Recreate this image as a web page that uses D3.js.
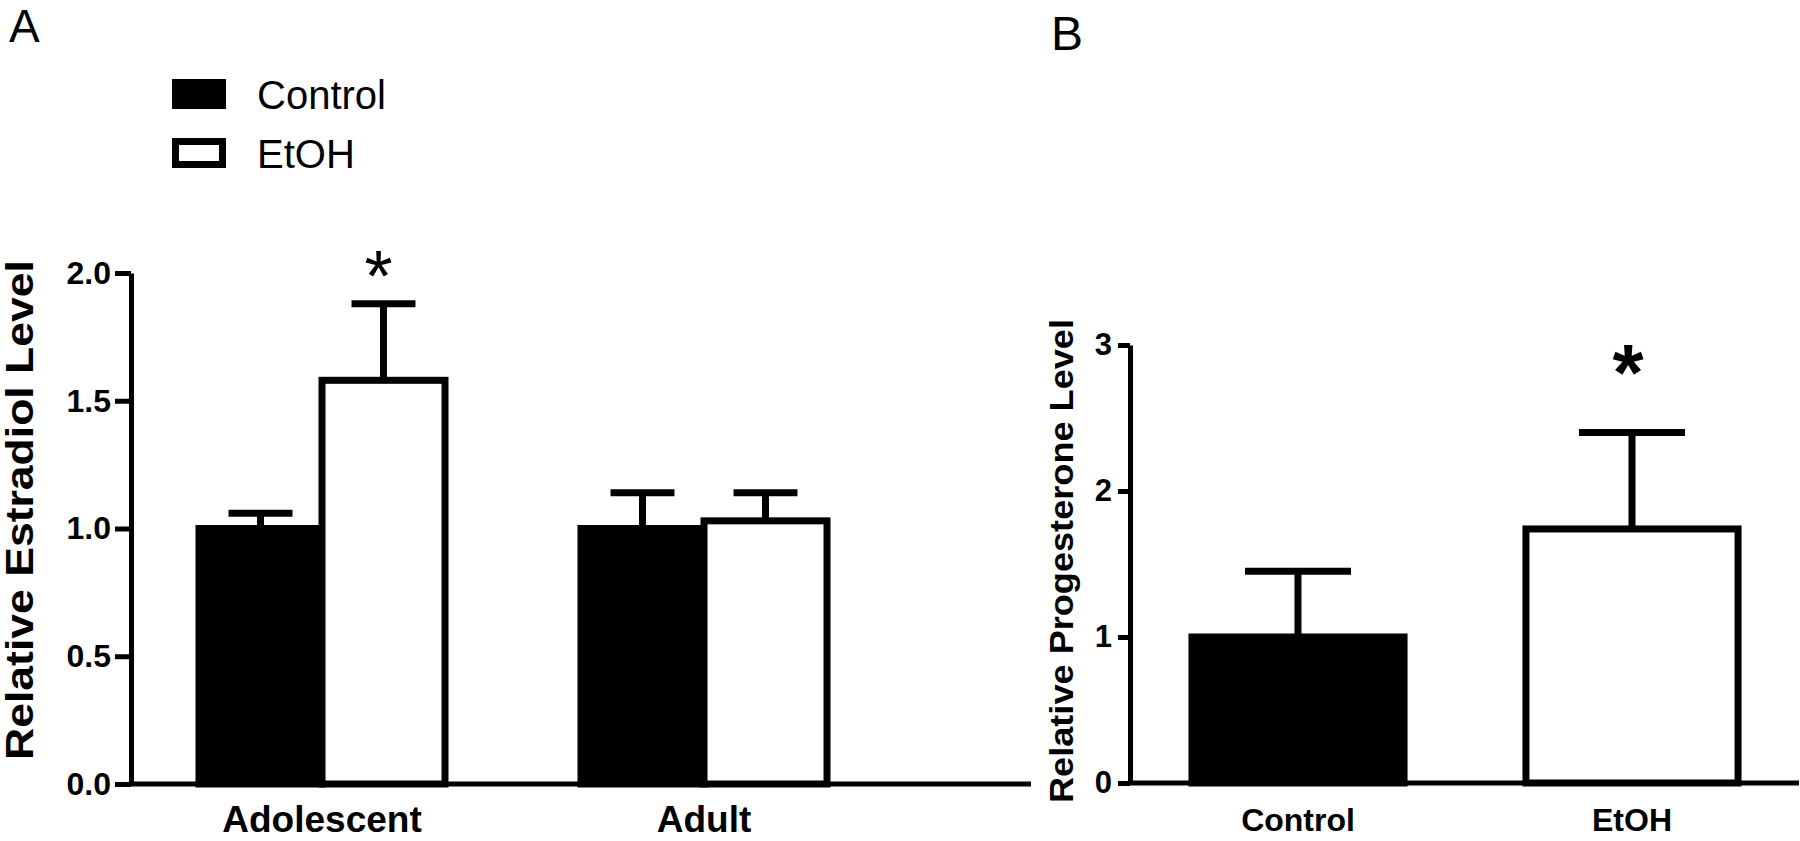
<!DOCTYPE html>
<html><head><meta charset="utf-8">
<script src="https://cdn.jsdelivr.net/npm/d3@7"></script>
<style>html,body{margin:0;padding:0;background:#fff;overflow:hidden}svg{display:block}</style>
</head><body>
<script>
// ---- data ----
const groupsA = ["Adolescent", "Adult"];
const seriesA = ["Control", "EtOH"];
const meanControlA = [1.0, 1.0];
const errControlA = [1.06, 1.14];
const meanEtohA = [1.58, 1.03];
const errEtohA = [1.88, 1.14];
const sigA = ["", "*"]; // per series in Adolescent group: EtOH marked
const yTicksA = [0, 0.5, 1.0, 1.5, 2.0];

const groupsB = ["Control", "EtOH"];
const meanB = [1.0, 1.74];
const errB = [1.45, 2.40];
const sigB = ["", "*"];
const yTicksB = [0, 1, 2, 3];

const fills = {Control: "#000", EtOH: "#fff"};

const W = 1800, H = 841;
const svg = d3.select("body").append("svg").attr("width", W).attr("height", H);
const bold = "'Liberation Sans', Arial, sans-serif";

// ---------- Panel A ----------
const yA = d3.scaleLinear().domain([0, 2]).range([784, 273]);
const x0A = d3.scaleBand().domain(groupsA).range([131, 895]).paddingInner(0.356).paddingOuter(0.178);
const x1A = d3.scaleBand().domain(seriesA).range([0, x0A.bandwidth()]);
const axisEndA = 1031;

const gA = svg.append("g");
const rowsA = [];
groupsA.forEach((g, i) => {
  rowsA.push({g, s: "Control", v: meanControlA[i], e: errControlA[i]});
  rowsA.push({g, s: "EtOH", v: meanEtohA[i], e: errEtohA[i]});
});
const bw = x1A.bandwidth();
// error bars
rowsA.forEach(d => {
  const cx = x0A(d.g) + x1A(d.s) + bw / 2;
  gA.append("line").attr("x1", cx).attr("x2", cx).attr("y1", yA(d.v)).attr("y2", yA(d.e))
    .attr("stroke", "#000").attr("stroke-width", 7);
  gA.append("line").attr("x1", cx - bw * 0.26).attr("x2", cx + bw * 0.26).attr("y1", yA(d.e)).attr("y2", yA(d.e))
    .attr("stroke", "#000").attr("stroke-width", 7);
});
gA.selectAll("rect.bar").data(rowsA).join("rect").attr("class", "bar")
  .attr("x", d => x0A(d.g) + x1A(d.s))
  .attr("width", bw)
  .attr("y", d => yA(d.v))
  .attr("height", d => yA(0) - yA(d.v))
  .attr("fill", d => fills[d.s]).attr("stroke", "#000").attr("stroke-width", 7);
gA.append("text").attr("x", x0A("Adolescent") + x1A("EtOH") + bw / 2 - 5).attr("y", yA(2.0) + 28)
  .attr("text-anchor", "middle").attr("font-family", bold).attr("font-size", 72).text(sigA[1]);

// axes A
const yAxA = gA.append("g").attr("transform", "translate(131,0)")
  .call(d3.axisLeft(yA).tickValues(yTicksA).tickFormat(d3.format(".1f")).tickSize(16).tickSizeOuter(0).tickPadding(4));
const xAxA = gA.append("g").attr("transform", `translate(0,${yA(0)})`)
  .call(d3.axisBottom(x0A).tickSize(0).tickPadding(22));
xAxA.select(".domain").attr("d", `M131,0H${axisEndA}`);
[yAxA, xAxA].forEach(a => {
  a.selectAll("path,line").attr("stroke", "#000").attr("stroke-width", 5);
  a.selectAll("text").attr("fill", "#000").attr("font-family", bold).attr("font-weight", "bold");
});
yAxA.selectAll("text").attr("font-size", 32);
xAxA.selectAll("text").attr("font-size", 37);
xAxA.selectAll(".tick text").attr("dy", "0.71em");

gA.append("text").attr("transform", "translate(33,510) rotate(-90)")
  .attr("text-anchor", "middle").attr("font-family", bold).attr("font-weight", "bold")
  .attr("font-size", 38).attr("textLength", 500).attr("lengthAdjust", "spacingAndGlyphs")
  .text("Relative Estradiol Level");

// panel label A and legend
svg.append("text").attr("x", 9).attr("y", 42).attr("font-family", "'Liberation Sans', Arial, sans-serif")
  .attr("font-size", 46).text("A");
const leg = svg.append("g");
seriesA.forEach((s, i) => {
  const yy = 79 + i * 59;
  leg.append("rect").attr("x", 175.5).attr("y", yy + 3.5).attr("width", 47).attr("height", 23)
    .attr("fill", fills[s]).attr("stroke", "#000").attr("stroke-width", 7);
  leg.append("text").attr("x", 257).attr("y", yy + 30).attr("font-family", "'Liberation Sans', Arial, sans-serif")
    .attr("font-size", 40).text(s);
});

// ---------- Panel B ----------
const yB = d3.scaleLinear().domain([0, 3]).range([783, 345]);
const xB = d3.scaleBand().domain(groupsB).range([1131, 1799]).paddingInner(0.365).paddingOuter(0.1825);
const gB = svg.append("g");
const bwB = xB.bandwidth();
groupsB.forEach((g, i) => {
  const cx = xB(g) + bwB / 2;
  gB.append("line").attr("x1", cx).attr("x2", cx).attr("y1", yB(meanB[i])).attr("y2", yB(errB[i]))
    .attr("stroke", "#000").attr("stroke-width", 7);
  gB.append("line").attr("x1", cx - bwB * 0.25).attr("x2", cx + bwB * 0.25).attr("y1", yB(errB[i])).attr("y2", yB(errB[i]))
    .attr("stroke", "#000").attr("stroke-width", 7);
});
gB.selectAll("rect.bar").data(groupsB).join("rect").attr("class", "bar")
  .attr("x", d => xB(d)).attr("width", bwB)
  .attr("y", (d, i) => yB(meanB[i])).attr("height", (d, i) => yB(0) - yB(meanB[i]))
  .attr("fill", d => fills[d]).attr("stroke", "#000").attr("stroke-width", 7);
gB.append("text").attr("x", xB("EtOH") + bwB / 2 - 4).attr("y", yB(2.4) - 33)
  .attr("text-anchor", "middle").attr("font-family", bold).attr("font-weight", "bold").attr("font-size", 80).text(sigB[1]);

const yAxB = gB.append("g").attr("transform", "translate(1130,0)")
  .call(d3.axisLeft(yB).tickValues(yTicksB).tickFormat(d3.format("d")).tickSize(12).tickSizeOuter(0).tickPadding(6));
const xAxB = gB.append("g").attr("transform", `translate(0,${yB(0)})`)
  .call(d3.axisBottom(xB).tickSize(0).tickPadding(25));
xAxB.select(".domain").attr("d", "M1130,0H1799");
[yAxB, xAxB].forEach(a => {
  a.selectAll("path,line").attr("stroke", "#000").attr("stroke-width", 5);
  a.selectAll("text").attr("fill", "#000").attr("font-family", bold).attr("font-weight", "bold");
});
yAxB.selectAll("text").attr("font-size", 31);
xAxB.selectAll("text").attr("font-size", 32).attr("dy", "0.71em");

gB.append("text").attr("transform", "translate(1073,561) rotate(-90)")
  .attr("text-anchor", "middle").attr("font-family", bold).attr("font-weight", "bold")
  .attr("font-size", 34).attr("textLength", 484).attr("lengthAdjust", "spacingAndGlyphs")
  .text("Relative Progesterone Level");

svg.append("text").attr("x", 1051).attr("y", 50).attr("font-family", "'Liberation Sans', Arial, sans-serif")
  .attr("font-size", 48).text("B");
</script>
</body></html>
